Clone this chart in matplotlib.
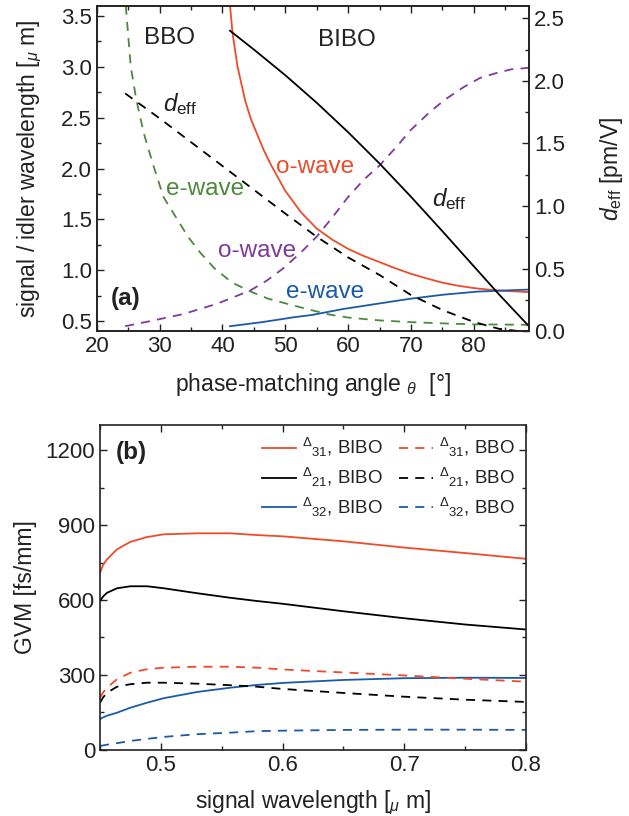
import matplotlib
matplotlib.use("Agg")
import matplotlib.pyplot as plt
from matplotlib.ticker import MultipleLocator, FormatStrFormatter

plt.rcParams['font.family'] = ['Liberation Sans', 'DejaVu Sans']
plt.rcParams['mathtext.fontset'] = 'custom'
plt.rcParams['mathtext.rm'] = 'Liberation Sans'
plt.rcParams['mathtext.it'] = 'Liberation Sans:italic'
plt.rcParams['mathtext.bf'] = 'Liberation Sans:bold'

# ---------------- panel (a) data ----------------
bibo_o_angle = [41.2, 41.6, 42.4, 43.6, 44.5, 45.5, 46.5, 47.6, 50.0, 52.5, 55.0, 57.5, 60.0, 62.5, 65.0, 67.5, 70.0, 72.5, 75.0, 77.5, 80.0, 82.5, 85.0, 88.8]
bibo_o_wl    = [3.60, 3.33, 3.00, 2.67, 2.49, 2.34, 2.19, 2.05, 1.78, 1.57, 1.41, 1.30, 1.21, 1.14, 1.08, 1.02, 0.965, 0.92, 0.878, 0.848, 0.825, 0.808, 0.797, 0.785]

bibo_e_angle = [41.2, 46.3, 51.6, 54.2, 59.3, 64.6, 69.9, 75.2, 80.6, 84.5, 88.8]
bibo_e_wl    = [0.45, 0.49, 0.54, 0.56, 0.62, 0.67, 0.72, 0.76, 0.79, 0.80, 0.81]

bbo_e_angle = [24.6, 25.4, 26.3, 27.5, 29.0, 30.6, 32.8, 34.5, 36.5, 38.7, 41.5, 44.5, 47.3, 50.0, 53.7, 57.0, 60.0, 65.0, 70.0, 75.0, 80.0, 88.8]
bbo_e_wl    = [3.60, 3.00, 2.67, 2.34, 2.03, 1.72, 1.50, 1.33, 1.17, 1.02, 0.88, 0.79, 0.72, 0.675, 0.615, 0.565, 0.535, 0.507, 0.49, 0.478, 0.468, 0.464]

bbo_o_angle = [24.5, 28.5, 33.8, 39.1, 44.4, 47.1, 49.7, 52.4, 55.0, 57.5, 60.0, 62.5, 65.0, 67.8, 70.0, 73.1, 75.5, 78.4, 81.0, 83.7, 86.0, 88.8]
bbo_o_wl    = [0.45, 0.50, 0.57, 0.67, 0.80, 0.90, 1.02, 1.17, 1.33, 1.52, 1.72, 1.89, 2.03, 2.22, 2.38, 2.56, 2.68, 2.80, 2.89, 2.94, 2.975, 2.99]

bibo_deff_angle = [41.2, 45.0, 50.0, 55.0, 60.0, 65.0, 70.0, 75.0, 80.0, 84.0, 88.8]
bibo_deff       = [2.40, 2.25, 2.045, 1.825, 1.59, 1.34, 1.075, 0.80, 0.52, 0.296, 0.04]

bbo_deff_angle = [24.5, 30.0, 35.0, 40.0, 45.0, 50.0, 55.0, 60.0, 65.0, 70.0, 75.0, 80.0, 84.0, 87.5, 88.8]
bbo_deff       = [1.90, 1.70, 1.51, 1.32, 1.13, 0.94, 0.755, 0.59, 0.45, 0.29, 0.17, 0.075, 0.02, 0.0, 0.0]

# ---------------- panel (b) data ----------------
lam      = [0.45, 0.4525, 0.4558, 0.464, 0.475, 0.4887, 0.5024, 0.530, 0.557, 0.579, 0.60, 0.65, 0.70, 0.75, 0.80]
d31_bibo = [709, 740, 763, 803, 833, 852, 863, 867, 867, 860, 855, 835, 810, 788, 765]
d21_bibo = [596, 614, 629, 647, 655, 655, 647, 627, 609, 596, 585, 555, 527, 502, 482]
d32_bibo = [123, 130, 137, 149, 169, 189, 207, 232, 249, 260, 268, 280, 287, 289, 288]
d31_bbo  = [209, 230, 249, 283, 309, 323, 329, 333, 333, 329, 322, 310, 298, 285, 273]
d21_bbo  = [189, 210, 229, 253, 263, 269, 269, 265, 259, 253, 244, 228, 213, 201, 192]
d32_bbo  = [16, 18, 21, 27, 36, 44, 52, 63, 69, 75, 77, 80, 81, 81, 80]

RED = '#EE4B2B'
BLUE = '#1C5AA6'
GREEN = '#4A8A3A'
PURPLE = '#7E3B99'
DARK = '#222222'
DASH = (0, (5, 4))
LW = 1.3

fig = plt.figure(figsize=(6.29, 8.16), dpi=100)

# ---------------- panel (a) ----------------
ax = fig.add_axes([0.154, 0.594, 0.687, 0.399])
ax2 = ax.twinx()

ax.plot(bibo_o_angle, bibo_o_wl, color=RED, lw=LW)
ax.plot(bibo_e_angle, bibo_e_wl, color=BLUE, lw=LW)
ax.plot(bbo_e_angle, bbo_e_wl, color=GREEN, lw=LW, ls=DASH)
ax.plot(bbo_o_angle, bbo_o_wl, color=PURPLE, lw=LW, ls=DASH)
ax2.plot(bibo_deff_angle, bibo_deff, color='black', lw=LW)
ax2.plot(bbo_deff_angle, bbo_deff, color='black', lw=LW, ls=DASH)

ax.set_xlim(20, 88.8)
ax.set_ylim(0.4, 3.6)
ax2.set_ylim(0, 2.6)

ax.xaxis.set_major_locator(MultipleLocator(10))
ax.xaxis.set_minor_locator(MultipleLocator(5))
ax.yaxis.set_major_locator(MultipleLocator(0.5))
ax.yaxis.set_minor_locator(MultipleLocator(0.25))
ax2.yaxis.set_major_locator(MultipleLocator(0.5))
ax2.yaxis.set_minor_locator(MultipleLocator(0.25))

for a in (ax, ax2):
    a.tick_params(which='both', direction='in', labelsize=16, width=1.0, colors=DARK)
    a.tick_params(which='major', length=5)
    a.tick_params(which='minor', length=3)
    for s in a.spines.values():
        s.set_linewidth(1.2)
        s.set_color(DARK)
ax.tick_params(which='both', top=True, right=False)
ax.yaxis.set_major_formatter(FormatStrFormatter('%.1f'))
ax2.yaxis.set_major_formatter(FormatStrFormatter('%.1f'))

ax.set_xlabel(r'phase-matching angle $_{\theta}$  [°]', fontsize=16.5, labelpad=10, color=DARK)
ax.set_ylabel(r'signal / idler wavelength [$_{\mu}$ m]', fontsize=16.5, labelpad=12, color=DARK)
ax2.set_ylabel(r'$d_{\rm eff}$ [pm/V]', fontsize=16.5, labelpad=24, color=DARK)

ax.text(31.6, 3.28, 'BBO', fontsize=17.5, ha='center', va='center', color=DARK)
ax.text(59.8, 3.26, 'BIBO', fontsize=17.5, ha='center', va='center', color=DARK)
ax.text(30.5, 2.56, r'$d_{\rm eff}$', fontsize=17.5, ha='left', va='baseline', color=DARK)
ax.text(73.3, 1.63, r'$d_{\rm eff}$', fontsize=17.5, ha='left', va='baseline', color=DARK)
ax.text(54.8, 2.01, 'o-wave', fontsize=17.5, ha='center', va='center', color=RED)
ax.text(37.2, 1.80, 'e-wave', fontsize=17.5, ha='center', va='center', color=GREEN)
ax.text(45.5, 1.19, 'o-wave', fontsize=17.5, ha='center', va='center', color=PURPLE)
ax.text(56.4, 0.785, 'e-wave', fontsize=17.5, ha='center', va='center', color=BLUE)
ax.text(24.6, 0.72, '(a)', fontsize=17.5, ha='center', va='center', fontweight='bold', color=DARK)

# ---------------- panel (b) ----------------
bx = fig.add_axes([0.159, 0.081, 0.677, 0.398])
bx.plot(lam, d31_bibo, color=RED, lw=LW, label=r'$^{\Delta}{}_{31}$, BIBO')
bx.plot(lam, d21_bibo, color='black', lw=LW, label=r'$^{\Delta}{}_{21}$, BIBO')
bx.plot(lam, d32_bibo, color=BLUE, lw=LW, label=r'$^{\Delta}{}_{32}$, BIBO')
bx.plot(lam, d31_bbo, color=RED, lw=LW, ls=DASH, label=r'$^{\Delta}{}_{31}$, BBO')
bx.plot(lam, d21_bbo, color='black', lw=LW, ls=DASH, label=r'$^{\Delta}{}_{21}$, BBO')
bx.plot(lam, d32_bbo, color=BLUE, lw=LW, ls=DASH, label=r'$^{\Delta}{}_{32}$, BBO')

bx.set_xlim(0.45, 0.8)
bx.set_ylim(0, 1300)
bx.xaxis.set_major_locator(MultipleLocator(0.1))
bx.xaxis.set_minor_locator(MultipleLocator(0.05))
bx.yaxis.set_major_locator(MultipleLocator(300))
bx.yaxis.set_minor_locator(MultipleLocator(150))
bx.xaxis.set_major_formatter(FormatStrFormatter('%.1f'))
bx.tick_params(which='both', direction='in', top=True, right=True, labelsize=16, width=1.0, colors=DARK)
bx.tick_params(which='major', length=5)
bx.tick_params(which='minor', length=3)
for s in bx.spines.values():
    s.set_linewidth(1.2)
    s.set_color(DARK)

bx.set_xlabel(r'signal wavelength [$_{\mu}$ m]', fontsize=16.5, labelpad=9, color=DARK)
bx.set_ylabel('GVM [fs/mm]', fontsize=16.5, labelpad=6, color=DARK)
bx.text(0.476, 1189, '(b)', fontsize=17.5, ha='center', va='center', fontweight='bold', color=DARK)

leg = bx.legend(ncol=2, loc='upper right', frameon=False, fontsize=13.5,
                handlelength=1.8, columnspacing=0.9, handletextpad=0.3,
                labelspacing=0.35, borderaxespad=0.2)
for t in leg.get_texts():
    t.set_color(DARK)

fig.savefig('out.png', dpi=100)
